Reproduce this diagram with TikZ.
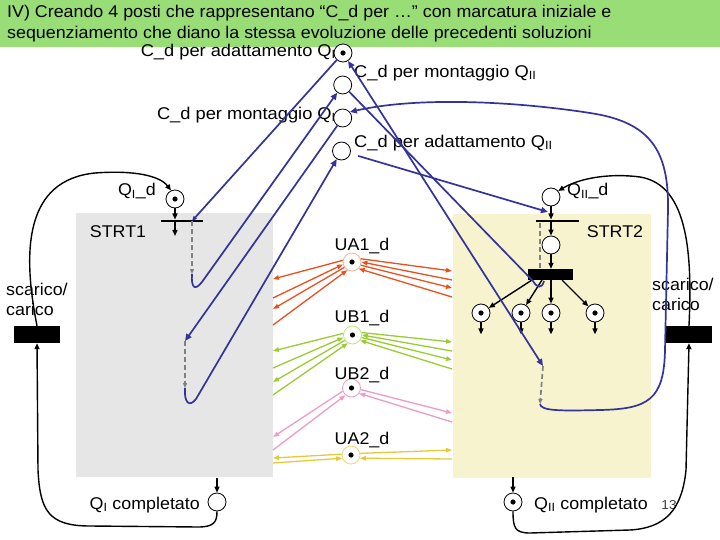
\documentclass[tikz,border=0pt]{standalone}
\usepackage{fontspec}
\setmainfont{Liberation Sans}[FakeStretch=1.05]
\newfontfamily\cdfont{Liberation Sans}[FakeStretch=1.075]
\usetikzlibrary{arrows.meta,calc}
\definecolor{titlegreen}{RGB}{153,221,119}
\definecolor{boxgrey}{RGB}{230,230,230}
\definecolor{boxyellow}{RGB}{246,243,206}
\definecolor{navy}{RGB}{51,51,153}
\definecolor{arcred}{RGB}{232,80,30}
\definecolor{arcgreen}{RGB}{153,204,51}
\definecolor{arcpink}{RGB}{240,154,200}
\definecolor{arcyellow}{RGB}{230,200,60}
\definecolor{dashgrey}{RGB}{128,128,128}
\begin{document}
\begin{tikzpicture}[x=1pt,y=1pt,
  place/.style={circle,draw,fill=white,minimum size=18pt,inner sep=0pt,line width=0.8pt},
  token/.style={place,path picture={\fill[black] (path picture bounding box.center) circle (2.6pt);}},
  lbl/.style={font=\fontsize{17}{20}\selectfont,inner sep=0pt},
  cdlbl/.style={font=\cdfont\fontsize{17}{20}\selectfont,inner sep=0pt},
  barnode/.style={fill=black,inner sep=0pt,rectangle},
  blk/.style={line width=1.4pt,-{Triangle[length=6pt,width=5pt]}},
  navyline/.style={draw=navy,line width=1.7pt},
  navyarrow/.style={-{Triangle[length=7pt,width=6pt]}},
  dashline/.style={draw=dashgrey,line width=1.7pt,dash pattern=on 5pt off 3pt},
  dasharrow/.style={-{Triangle[length=5pt,width=4pt]}},
  arcA/.style={line width=1.3pt},
  arcarrow/.style={-{Triangle[length=6pt,width=4.5pt]}}
]
\useasboundingbox (0,0) rectangle (720,-540);
% title
\fill[titlegreen] (0,0) rectangle (720,-47);
\node[lbl,anchor=west] (title1) at (7,-13) {IV) Creando 4 posti che rappresentano “C\_d per …” con marcatura iniziale e};
\node[lbl,anchor=west] (title2) at (7,-34) {sequenziamento che diano la stessa evoluzione delle precedenti soluzioni};
% boxes
\fill[boxgrey] (76,-213) rectangle (273,-477);
\fill[boxyellow] (453,-214) rectangle (651,-478);
\node[lbl] (strt1) at (118,-232) {STRT1};
\node[lbl] (strt2) at (615,-232) {STRT2};

% places
\node[token] (p1) at (343,-53) {};
\node[place] (p2) at (342.7,-85) {};
\node[place] (p3) at (342.7,-118) {};
\node[place] (p4) at (341.5,-151) {};
\node[cdlbl,anchor=east] at (336,-52) {C\_d per adattamento Q\textsubscript{I}};
\node[cdlbl,anchor=west] at (354,-73) {C\_d per montaggio Q\textsubscript{II}};
\node[cdlbl,anchor=east] at (336,-115) {C\_d per montaggio Q\textsubscript{I}};
\node[cdlbl,anchor=west] at (354,-143) {C\_d per adattamento Q\textsubscript{II}};

\node[token] (q1d) at (175,-199) {};
\node[lbl,anchor=east] at (156,-191) {Q\textsubscript{I}\_d};
\node[place] (q2d) at (551,-197) {};
\node[lbl,anchor=west] at (567,-191) {Q\textsubscript{II}\_d};
\node[place] (s2p) at (551,-245) {};
\node[token] (f1) at (481,-313) {};
\node[token] (f2) at (521,-313) {};
\node[token] (f3) at (551,-313) {};
\node[token] (f4) at (595,-313) {};

\node[token,draw=arcred!45] (ua1) at (352,-262) {};
\node[token,draw=arcgreen!60] (ub1) at (352.5,-335) {};
\node[token,draw=arcpink] (ub2) at (351.5,-388) {};
\node[token,draw=arcyellow!70] (ua2) at (351,-455) {};
\node[lbl] at (362,-246) {UA1\_d};
\node[lbl] at (362,-318) {UB1\_d};
\node[lbl] at (362,-375) {UB2\_d};
\node[lbl] at (362,-440) {UA2\_d};

\node[place] (qic) at (217,-502) {};
\node[token] (qiic) at (513,-502) {};
\node[lbl,anchor=east] at (200,-505) {Q\textsubscript{I} completato};
\node[lbl,anchor=west] at (534,-505) {Q\textsubscript{II} completato};
\node[font=\fontsize{13}{15}\selectfont,inner sep=0pt,text=black!75] at (669,-505) {13};

% coloured arcs
\foreach \a/\y in {170/279,215/309}{\coordinate (e) at (273,-\y); \draw[arcA,draw=arcred,arcarrow] (ua1.\a) -- (e);}
\foreach \a/\y in {195/298,240/325}{\coordinate (e) at (273,-\y); \draw[arcA,draw=arcred,arcarrow] (e) -- (ua1.\a);}
\foreach \a/\y in {20/271,-20/288}{\coordinate (e) at (452,-\y); \draw[arcA,draw=arcred,arcarrow] (ua1.\a) -- (e);}
\foreach \a/\y in {0/280,-45/297}{\coordinate (e) at (452,-\y); \draw[arcA,draw=arcred,arcarrow] (e) -- (ua1.\a);}
\foreach \a/\y in {170/351,215/382}{\coordinate (e) at (273,-\y); \draw[arcA,draw=arcgreen,arcarrow] (ub1.\a) -- (e);}
\foreach \a/\y in {195/368,240/395}{\coordinate (e) at (273,-\y); \draw[arcA,draw=arcgreen,arcarrow] (e) -- (ub1.\a);}
\foreach \a/\y in {15/342,-15/360}{\coordinate (e) at (452,-\y); \draw[arcA,draw=arcgreen,arcarrow] (ub1.\a) -- (e);}
\foreach \a/\y in {0/351,-35/369}{\coordinate (e) at (452,-\y); \draw[arcA,draw=arcgreen,arcarrow] (e) -- (ub1.\a);}
\coordinate (pl1) at (273,-437); \coordinate (pl2) at (273,-450);
\coordinate (pr1) at (452,-413); \coordinate (pr2) at (452,-422);
\draw[arcA,draw=arcpink,arcarrow] (ub2.200) -- (pl1);
\draw[arcA,draw=arcpink,arcarrow] (pl2) -- (ub2.230);
\draw[arcA,draw=arcpink,arcarrow] (ub2.-10) -- (pr1);
\draw[arcA,draw=arcpink,arcarrow] (pr2) -- (ub2.-35);
\coordinate (yl1) at (273,-458); \coordinate (yl2) at (273,-463);
\coordinate (yr1) at (452,-450); \coordinate (yr2) at (452,-459);
\draw[arcA,draw=arcyellow,arcarrow] (ua2.175) -- (yl1);
\draw[arcA,draw=arcyellow,arcarrow] (yl2) -- (ua2.200);
\draw[arcA,draw=arcyellow,arcarrow] (ua2.10) -- (yr1);
\draw[arcA,draw=arcyellow,arcarrow] (yr2) -- (ua2.-20);

% bars
\node[barnode,minimum width=42pt,minimum height=2.6pt] (t1) at (182,-221) {};
\node[barnode,minimum width=43pt,minimum height=2.6pt] (t2) at (557.5,-221) {};
\node[barnode,minimum width=45pt,minimum height=11pt] (tb) at (550.5,-274.5) {};
\node[barnode,minimum width=46pt,minimum height=17pt] (lr) at (37,-334.5) {};
\node[barnode,minimum width=46pt,minimum height=17pt] (rr) at (689,-334.5) {};
\node[lbl,anchor=north west,align=left] at (6,-283) {scarico/\\carico};
\node[lbl,anchor=north west,align=left] at (652,-278) {scarico/\\carico};

% black arcs
\coordinate (t1out) at (175,-236);
\draw[blk] (q1d.south) -- (q1d.south |- t1.north);
\draw[blk] (q1d.south |- t1.south) -- (t1out);
\draw[blk] (q2d.south) -- (q2d.south |- t2.north);
\draw[blk] (q2d.south |- t2.south) -- (s2p.north);
\draw[blk] (s2p.south) -- (s2p.south |- tb.north);
\coordinate (b1) at (532,-280); \coordinate (b2) at (542,-280);
\coordinate (b3) at (551,-280); \coordinate (b4) at (562,-280);
\draw[blk] (b1) -- (f1); \draw[blk] (b2) -- (f2); \draw[blk] (b3) -- (f3); \draw[blk] (b4) -- (f4);
\foreach \f in {f1,f2,f3,f4}{\coordinate (d) at ($(\f.south)+(0,-12)$); \draw[blk] (\f.south) -- (d);}
\coordinate (boxl) at (217,-478); \coordinate (boxr) at (513,-477);
\draw[blk] (boxl) -- (qic.north);
\draw[blk] (boxr) -- (qiic.north);
\draw[blk] (qic.south) .. controls (217,-522) and (214,-527) .. (198,-527) -- (90,-526) .. controls (48,-526) and (40,-510) .. (38,-470) -- (lr.south);
\draw[blk] (lr.north) .. controls (22,-250) and (25,-180) .. (95,-173) .. controls (135,-170) and (160,-176) .. (q1d.115);
\draw[blk] (qiic.south) .. controls (513,-528) and (515,-533) .. (530,-533) -- (630,-530) .. controls (665,-528) and (682,-510) .. (686,-470) -- (rr.south);
\draw[blk] (rr.north) .. controls (692,-260) and (690,-185) .. (640,-177) .. controls (610,-173) and (580,-178) .. (q2d.40);

% navy arcs and dashed sequences
\coordinate (t1a) at (192,-221);
\coordinate (h1) at (192,-274);
\coordinate (c2a) at (185,-341);
\coordinate (h2) at (185,-388);
\coordinate (e2a) at (543,-366);
\coordinate (g0) at (540,-404);
\coordinate (t2a) at (548,-212);
\coordinate (ds2a) at (540,-223);
\coordinate (ds2b) at (540,-269);
\coordinate (fb) at (544,-281);
\draw[dashline,dasharrow,dashgrey] (t1a) -- (h1);
\draw[dashline,dasharrow,dashgrey] (c2a) -- (h2);
\draw[dashline] (ds2a) -- (ds2b);
\draw[dashline,dasharrow,dashgrey] (e2a) -- (g0);
\draw[navyline,-{Triangle[length=5pt,width=4pt]}] (p1) -- (t1a);
\draw[navyline,navyarrow] (h1) .. controls (191,-288) and (195,-291) .. (202,-282) -- (p2);
\draw[navyline,navyarrow] (p3) -- (c2a);
\draw[navyline,navyarrow] (h2) .. controls (184,-402) and (189,-408) .. (196,-399) -- (p4);
\draw[navyline,{Triangle[length=7pt,width=6pt]}-{Triangle[length=7pt,width=6pt]}] (p1) -- (e2a);
\draw[navyline] (p2) -- (533,-281) .. controls (537,-288) and (542,-289) .. (fb);
\draw[navyline,navyarrow] (g0) .. controls (541,-411) and (560,-411) .. (600,-410) .. controls (648,-409) and (664,-400) .. (665,-350) -- (668,-210) .. controls (669,-150) and (650,-122) .. (590,-113) .. controls (520,-102) and (420,-96) .. (p3.40);
\draw[navyline,navyarrow,shorten <=8pt] (p4) -- (t2a);
\end{tikzpicture}
\end{document}
